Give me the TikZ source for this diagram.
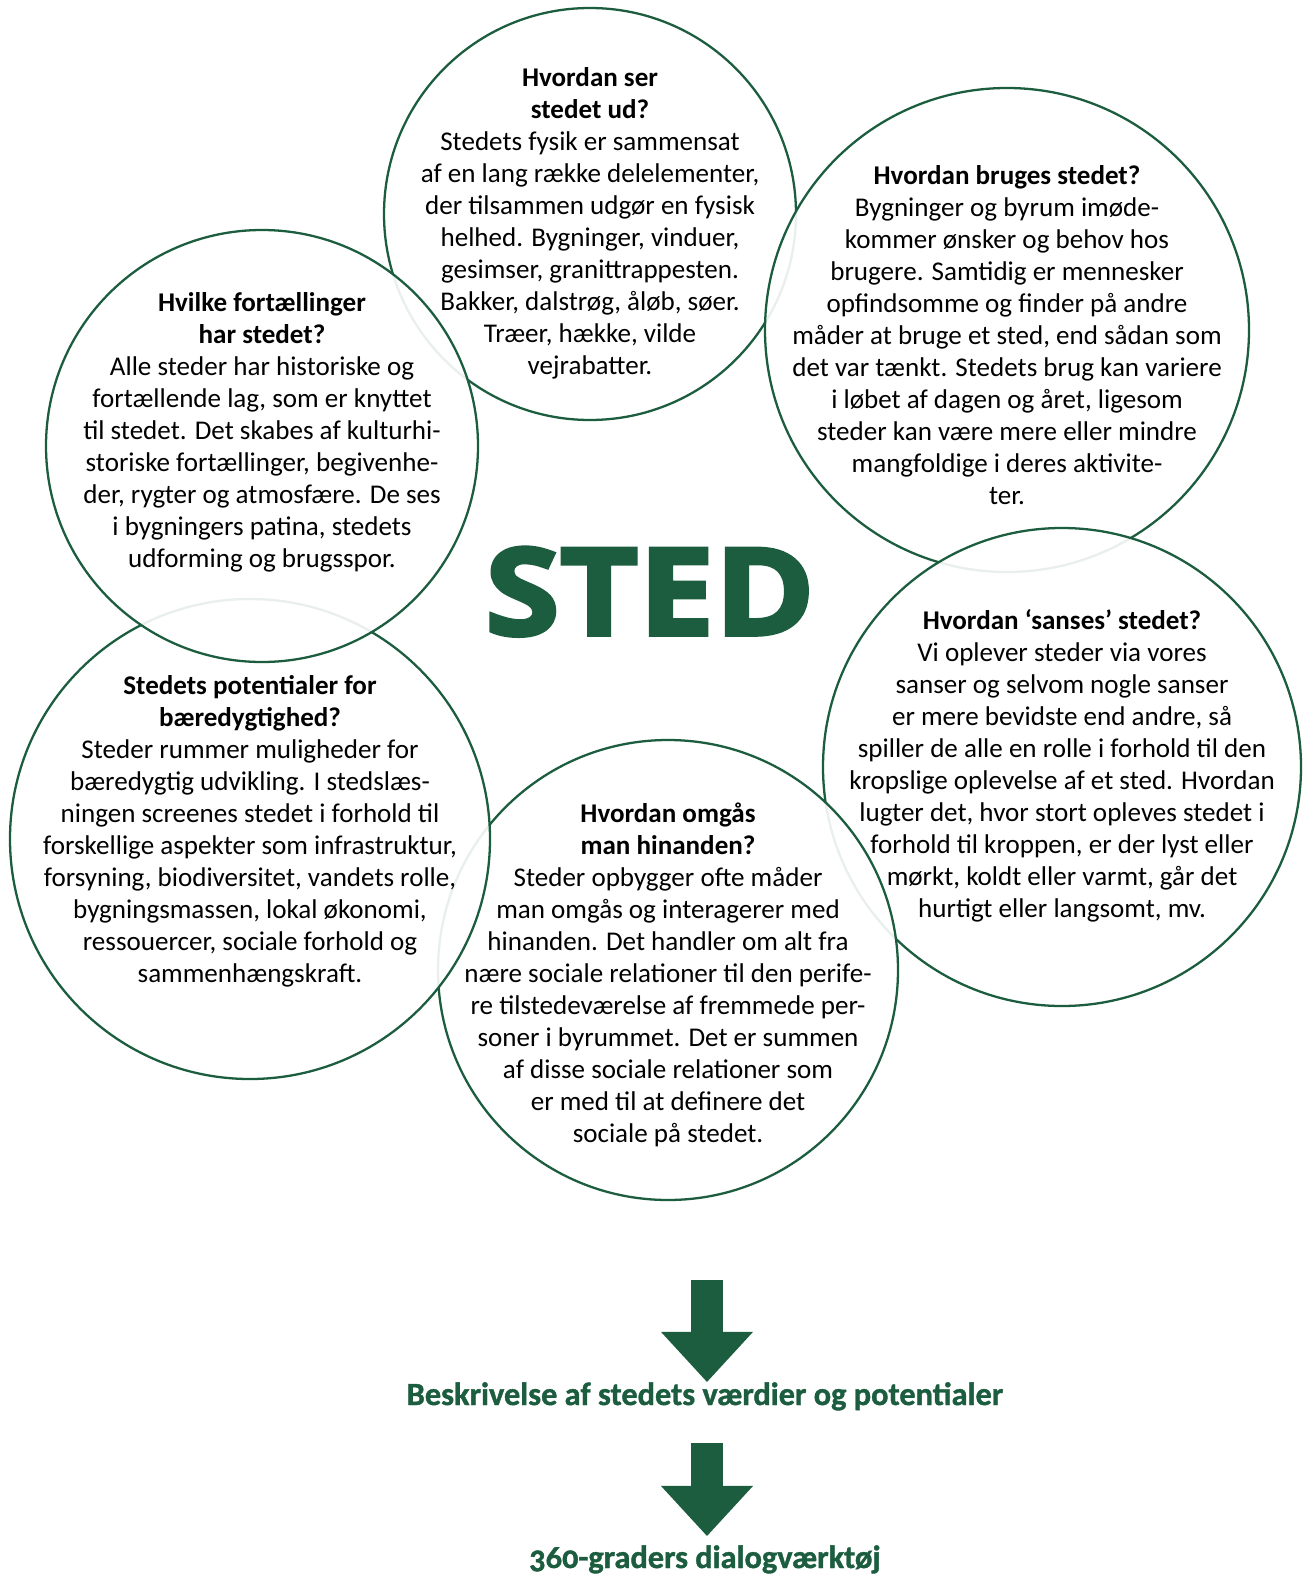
\documentclass[tikz,border=0pt]{standalone}
\usepackage{fontspec}
\setmainfont{Carlito}
\newfontfamily\pilfont{Carlito}[Numbers=OldStyle,BoldFeatures={FakeBold=1.2}]
\newfontfamily\stedbase{Open Sans}[BoldFeatures={FakeBold=3,FakeStretch=1.12}]
\newcommand\stedfont{\stedbase\bfseries}
\usetikzlibrary{arrows.meta}
\definecolor{stedgroen}{RGB}{27,93,62}

\begin{document}
\begin{tikzpicture}[x=0.02cm,y=-0.02cm,
        kreds/.style={draw=stedgroen,line width=1.3pt,fill=white,fill opacity=.9},
        tekst/.style={align=center,inner sep=0pt,font=\fontsize{15.4}{18.2}\selectfont},
        pil/.style={draw=stedgroen,line width=0.64cm,-{Triangle[length=1cm,width=1.84cm,line width=0pt]}},
        undertekst/.style={anchor=base,inner sep=0pt,text=stedgroen,font=\pilfont\bfseries\fontsize{18.4}{20}\selectfont}]
    \fill[white] (0,0) rectangle (1311,1575);
    \useasboundingbox (0,0) rectangle (1311,1575);

    % de seks cirkler, bagerste foerst
    \draw[kreds] (590,214) circle (206);
    \node[tekst] (ser) at (590,223) {\textbf{Hvordan ser}\\\textbf{stedet ud?}\\
        Stedets fysik er sammensat\\af en lang række delelementer,\\der tilsammen udgør en fysisk\\
        helhed. Bygninger, vinduer,\\gesimser, granittrappesten.\\Bakker, dalstrøg, åløb, søer.\\
        Træer, hække, vilde\\vejrabatter.};

    \draw[kreds] (1007,330) circle (242);
    \node[tekst] (bruges) at (1007,335) {\textbf{Hvordan bruges stedet?}\\
        Bygninger og byrum imøde-\\kommer ønsker og behov hos\\brugere. Samtidig er mennesker\\
        opfindsomme og finder på andre\\måder at bruge et sted, end sådan som\\det var tænkt. Stedets brug kan variere\\
        i løbet af dagen og året, ligesom\\steder kan være mere eller mindre\\mangfoldige i deres aktivite-\\ter.};

    \draw[kreds] (1062,767) circle (239);
    \node[tekst] (sanses) at (1062,766) {\textbf{Hvordan ‘sanses’ stedet?}\\
        Vi oplever steder via vores\\sanser og selvom nogle sanser\\er mere bevidste end andre, så\\
        spiller de alle en rolle i forhold til den\\kropslige oplevelse af et sted. Hvordan\\
        lugter det, hvor stort opleves stedet i\\forhold til kroppen, er der lyst eller\\
        mørkt, koldt eller varmt, går det\\hurtigt eller langsomt, mv.};

    \draw[kreds] (668,970) circle (230);
    \node[tekst] (omgaas) at (668,975) {\textbf{Hvordan omgås}\\\textbf{man hinanden?}\\
        Steder opbygger ofte måder\\man omgås og interagerer med\\hinanden. Det handler om alt fra\\
        nære sociale relationer til den perife-\\re tilstedeværelse af fremmede per-\\
        soner i byrummet. Det er summen\\af disse sociale relationer som\\er med til at definere det\\
        sociale på stedet.};

    \draw[kreds] (250,839) circle (240);
    \node[tekst] (potentialer) at (250,831) {\textbf{Stedets potentialer for}\\\textbf{bæredygtighed?}\\
        Steder rummer muligheder for\\bæredygtig udvikling. I stedslæs-\\ningen screenes stedet i forhold til\\
        forskellige aspekter som infrastruktur,\\forsyning, biodiversitet, vandets rolle,\\
        bygningsmassen, lokal økonomi,\\ressouercer, sociale forhold og\\sammenhængskraft.};

    \draw[kreds] (262,446) circle (216);
    \node[tekst] (fortaellinger) at (262,432) {\textbf{Hvilke fortællinger}\\\textbf{har stedet?}\\
        Alle steder har historiske og\\fortællende lag, som er knyttet\\til stedet. Det skabes af kulturhi-\\
        storiske fortællinger, begivenhe-\\der, rygter og atmosfære. De ses\\
        i bygningers patina, stedets\\udforming og brugsspor.};

    \node[anchor=base,inner sep=0pt,text=stedgroen,font=\stedfont\fontsize{69}{69}\selectfont] (sted) at (650,635) {STED};

    % pile og resultat
    \node[undertekst] (beskriv) at (705,1405) {Beskrivelse af stedets værdier og potentialer};
    \node[undertekst] (dialog) at (705,1568) {360-graders dialogværktøj};
    \coordinate (pilstart) at (707,1280);
    \draw[pil] (pilstart) -- (pilstart |- beskriv.north);
    \draw[pil,shorten <=0.64cm,shorten >=0.18cm] (pilstart |- beskriv.south) -- (pilstart |- dialog.north);
\end{tikzpicture}
\end{document}
